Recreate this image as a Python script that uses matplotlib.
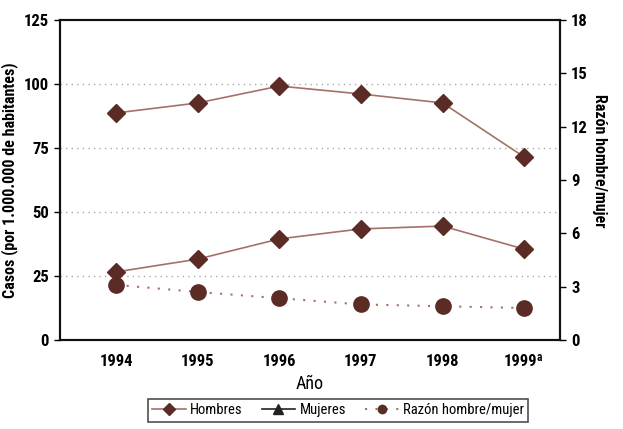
import matplotlib
matplotlib.use("Agg")
import matplotlib.pyplot as plt
from matplotlib.lines import Line2D
import matplotlib.font_manager as fm

years = [1994, 1995, 1996, 1997, 1998, 1999]
year_labels = ["1994", "1995", "1996", "1997", "1998", "1999ª"]
hombres = [88.7, 92.6, 99.2, 96.1, 92.6, 71.5]
mujeres = [26.6, 31.6, 39.5, 43.4, 44.5, 35.5]
razon = [3.1, 2.7, 2.35, 2.0, 1.9, 1.8]

names = {f.name for f in fm.fontManager.ttflist}
fam = "DejaVu Sans"
for cand in ["Liberation Sans Narrow", "Roboto Condensed", "DejaVu Sans Condensed"]:
    if cand in names:
        fam = cand
        break
plt.rcParams['font.family'] = [fam, 'DejaVu Sans']
plt.rcParams['font.stretch'] = 'condensed'

mk = "#5b2b25"
ln = "#a57068"

fig = plt.figure(figsize=(6.23, 4.29), dpi=100)
ax = fig.add_axes([60/623, 1-340/429, 500/623, 320/429])
ax2 = ax.twinx()

ax.plot(years, hombres, color=ln, lw=1.2, marker='D', ms=9, mfc=mk, mec=mk, zorder=3)
ax.plot(years, mujeres, color=ln, lw=1.2, marker='D', ms=9, mfc=mk, mec=mk, zorder=3)
ax2.plot(years, razon, color=ln, lw=1.5, ls=(0, (1, 4)), marker='o', ms=11, mfc=mk, mec=mk, zorder=3)

ax.set_xlim(1993.31, 1999.44)
ax.set_ylim(0, 125)
ax2.set_ylim(0, 18)
ax.set_yticks([0, 25, 50, 75, 100, 125])
ax2.set_yticks([0, 3, 6, 9, 12, 15, 18])
ax.set_xticks(years)
ax.set_xticklabels(year_labels)
for y in [25, 50, 75, 100]:
    ax.axhline(y, color="#aaaaaa", lw=1, ls=(0, (1, 3)), zorder=1)

for a in (ax, ax2):
    for s in a.spines.values():
        s.set_linewidth(1.5)
        s.set_color("#111111")
ax.tick_params(axis='y', length=4, width=1, labelsize=12, pad=4)
ax.tick_params(axis='x', length=0, labelsize=12, pad=10)
ax2.tick_params(axis='y', length=4, width=1, labelsize=12, pad=4)
for lab in ax.get_xticklabels() + ax.get_yticklabels() + ax2.get_yticklabels():
    lab.set_fontweight('bold')

ax.set_xlabel("Año", fontsize=13)
ax.xaxis.set_label_coords(0.5, -0.11)
ax.set_ylabel("Casos (por 1.000.000 de habitantes)", fontsize=11.5, fontweight='bold')
ax.yaxis.set_label_coords(-0.084, 0.5)
ax2.set_ylabel("Razón hombre/mujer", fontsize=11.5, rotation=270, fontweight='bold', va='center')
ax2.yaxis.set_label_coords(1.08, 0.56)

handles = [
    Line2D([], [], color=ln, lw=1.2, marker='D', ms=6, mfc=mk, mec=mk),
    Line2D([], [], color="#222222", lw=1.2, marker='^', ms=7, mfc="#222222", mec="#222222"),
    Line2D([], [], color=ln, lw=1.5, ls=(0, (1, 4)), marker='o', ms=6, mfc=mk, mec=mk),
]
leg = fig.legend(handles, ["Hombres", "Mujeres", "Razón hombre/mujer"],
                 loc='lower center', bbox_to_anchor=(338/623, 0.0), ncol=3,
                 frameon=True, fancybox=False, edgecolor="#222222", fontsize=10.5,
                 handlelength=2.3, columnspacing=1.3, borderpad=0.3, handletextpad=0.3)
leg.get_frame().set_linewidth(1.2)

fig.savefig("out.png", dpi=100)
